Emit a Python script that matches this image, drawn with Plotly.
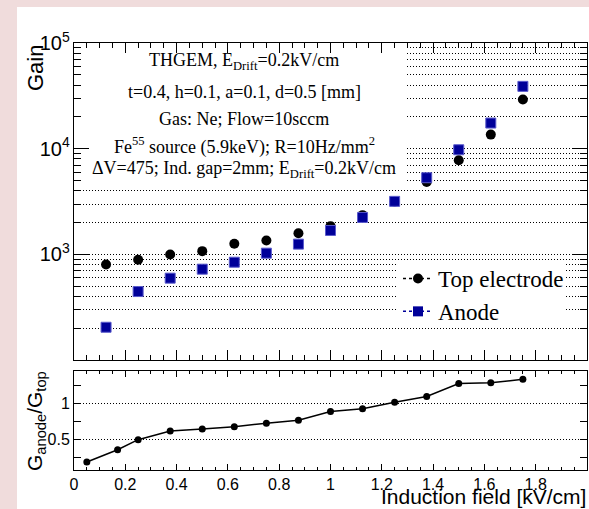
import plotly.graph_objects as go

# ---------------- data ----------------
field_kv = [0.125, 0.25, 0.375, 0.5, 0.625, 0.75, 0.875, 1.0, 1.125, 1.25, 1.375, 1.5, 1.625, 1.75]
gain_top = [804, 891, 1000, 1075, 1262, 1358, 1590, 1854, 2355, 3150, 4840, 7770, 13600, 29200]
gain_anode = [205, 446, 597, 726, 845, 1029, 1253, 1687, 2240, 3180, 5320, 9780, 17500, 38900]

ratio_field = [0.05, 0.17, 0.25, 0.375, 0.5, 0.625, 0.75, 0.875, 1.0, 1.125, 1.25, 1.375, 1.5, 1.625, 1.75]
ratio_values = [0.19, 0.36, 0.50, 0.62, 0.65, 0.68, 0.73, 0.77, 0.89, 0.93, 1.02, 1.10, 1.28, 1.29, 1.34]

info_lines = [
    "THGEM, E<sub>Drift</sub>=0.2kV/cm",
    "t=0.4, h=0.1, a=0.1, d=0.5 [mm]",
    "Gas: Ne; Flow=10sccm",
    "Fe<sup>55</sup> source (5.9keV); R=10Hz/mm<sup>2</sup>",
    "\u0394V=475; Ind. gap=2mm; E<sub>Drift</sub>=0.2kV/cm",
]
legend_names = ["Top electrode", "Anode"]

# ---------------- layout helpers ----------------
W, H = 589, 509
def px(x):
    return x / W
def py(y):
    return 1 - y / H

SANS = "Liberation Sans"
SERIF = "Liberation Serif"
BLUE = "#000099"
DOT = "1px,2px"

fig = go.Figure()

fig.add_trace(go.Scatter(x=field_kv, y=gain_top, mode="markers",
                         marker=dict(symbol="circle", size=10, color="black"),
                         xaxis="x", yaxis="y", showlegend=False))
fig.add_trace(go.Scatter(x=field_kv, y=gain_anode, mode="markers",
                         marker=dict(symbol="square", size=10, color=BLUE,
                                     line=dict(color="#5a5acc", width=1)),
                         xaxis="x", yaxis="y", showlegend=False))
# legend entries
fig.add_trace(go.Scatter(x=[None], y=[None], mode="lines+markers", name=legend_names[0],
                         line=dict(color="black", dash="dot", width=1.5),
                         marker=dict(symbol="circle", size=10, color="black"),
                         xaxis="x", yaxis="y"))
fig.add_trace(go.Scatter(x=[None], y=[None], mode="lines+markers", name=legend_names[1],
                         line=dict(color=BLUE, dash="dot", width=1.5),
                         marker=dict(symbol="square", size=10, color=BLUE),
                         xaxis="x", yaxis="y"))

fig.add_trace(go.Scatter(x=ratio_field, y=ratio_values, mode="lines+markers",
                         line=dict(color="black", width=1.5),
                         marker=dict(symbol="circle", size=7, color="black"),
                         xaxis="x2", yaxis="y2", showlegend=False))

xdom = [px(74), px(587)]
common_ax = dict(showline=True, linecolor="black", linewidth=1, mirror="allticks",
                 ticks="inside", tickcolor="black", zeroline=False)

fig.update_layout(
    width=W, height=H,
    margin=dict(l=0, r=0, t=0, b=0, autoexpand=False),
    paper_bgcolor="#f0dcdc",
    plot_bgcolor="white",
    xaxis=dict(domain=xdom, anchor="y", range=[0, 2], tick0=0, dtick=0.2, ticklen=10,
               showticklabels=False, showgrid=False,
               minor=dict(dtick=0.05, ticks="inside", ticklen=5, tickcolor="black", showgrid=False),
               **common_ax),
    yaxis=dict(domain=[py(360), py(43)], anchor="x", type="log", range=[2.002, 5], dtick=1,
               exponentformat="power", ticklen=15,
               tickfont=dict(family=SANS, size=16, color="black"),
               showgrid=True, gridcolor="black", gridwidth=1, griddash=DOT,
               minor=dict(dtick="D1", ticks="inside", ticklen=7, tickcolor="black",
                          showgrid=True, gridcolor="black", gridwidth=1, griddash=DOT),
               **common_ax),
    xaxis2=dict(domain=xdom, anchor="y2", range=[0, 2], tick0=0, dtick=0.2, ticklen=6,
                tickfont=dict(family=SANS, size=16, color="black"), showgrid=False,
                minor=dict(dtick=0.05, ticks="inside", ticklen=3, tickcolor="black", showgrid=False),
                **common_ax),
    yaxis2=dict(domain=[py(470), py(371)], anchor="x2", range=[0.079, 1.454], tick0=0, dtick=0.5,
                ticklen=7, tickfont=dict(family=SANS, size=16, color="black"),
                showgrid=True, gridcolor="black", gridwidth=1, griddash=DOT,
                minor=dict(dtick=0.25, ticks="inside", ticklen=7, tickcolor="black", showgrid=False),
                **common_ax),
    legend=dict(x=px(398), y=py(257), xanchor="left", yanchor="top",
                bgcolor="rgba(0,0,0,0)", borderwidth=0,
                font=dict(family=SERIF, size=23, color="black"),
                itemwidth=30, tracegroupgap=0),
    showlegend=True,
)

# pixel -> log-axis data value helper for the top panel (y from 43 to 360 px spans 1e5..1e2)
def gain_at(ypix):
    return 10 ** (5 - (ypix - 43) / 317 * 3)

shapes = [
    # white canvas over pink border
    dict(type="rect", xref="paper", yref="paper", x0=px(17), x1=1, y0=0, y1=py(7),
         fillcolor="white", line=dict(width=0), layer="below"),
    # info box
    dict(type="rect", xref="x", yref="y", x0=0, x1=(405 - 74) / 256.5,
         y0=gain_at(186), y1=1e5, fillcolor="white", line=dict(width=0), layer="between"),
    # legend box
    dict(type="rect", xref="x", yref="y", x0=(398 - 74) / 256.5, x1=(565 - 74) / 256.5,
         y0=gain_at(323), y1=gain_at(261), fillcolor="white", line=dict(width=0),
         layer="between"),
]
fig.update_layout(shapes=shapes)

annotations = []
line_y = [62, 92, 119, 146, 170]
for txt, yy in zip(info_lines, line_y):
    annotations.append(dict(text=txt, xref="paper", yref="paper", x=px(244), y=py(yy),
                            xanchor="center", yanchor="middle", showarrow=False,
                            font=dict(family=SERIF, size=18, color="black")))
annotations.append(dict(text="Gain", xref="paper", yref="paper", x=px(36), y=py(43),
                        xanchor="center", yanchor="top", textangle=-90, showarrow=False,
                        font=dict(family=SANS, size=22, color="black")))
annotations.append(dict(text="G<sub>anode</sub>/G<sub>top</sub>", xref="paper", yref="paper",
                        x=px(36), y=py(421), xanchor="center", yanchor="middle", textangle=-90,
                        showarrow=False, font=dict(family=SANS, size=21, color="black")))
annotations.append(dict(text="Induction field [kV/cm]", xref="paper", yref="paper",
                        x=px(587), y=py(496), xanchor="right", yanchor="middle", borderpad=0,
                        showarrow=False, font=dict(family=SANS, size=21, color="black")))
fig.update_layout(annotations=annotations)

fig.write_html("out.html")
